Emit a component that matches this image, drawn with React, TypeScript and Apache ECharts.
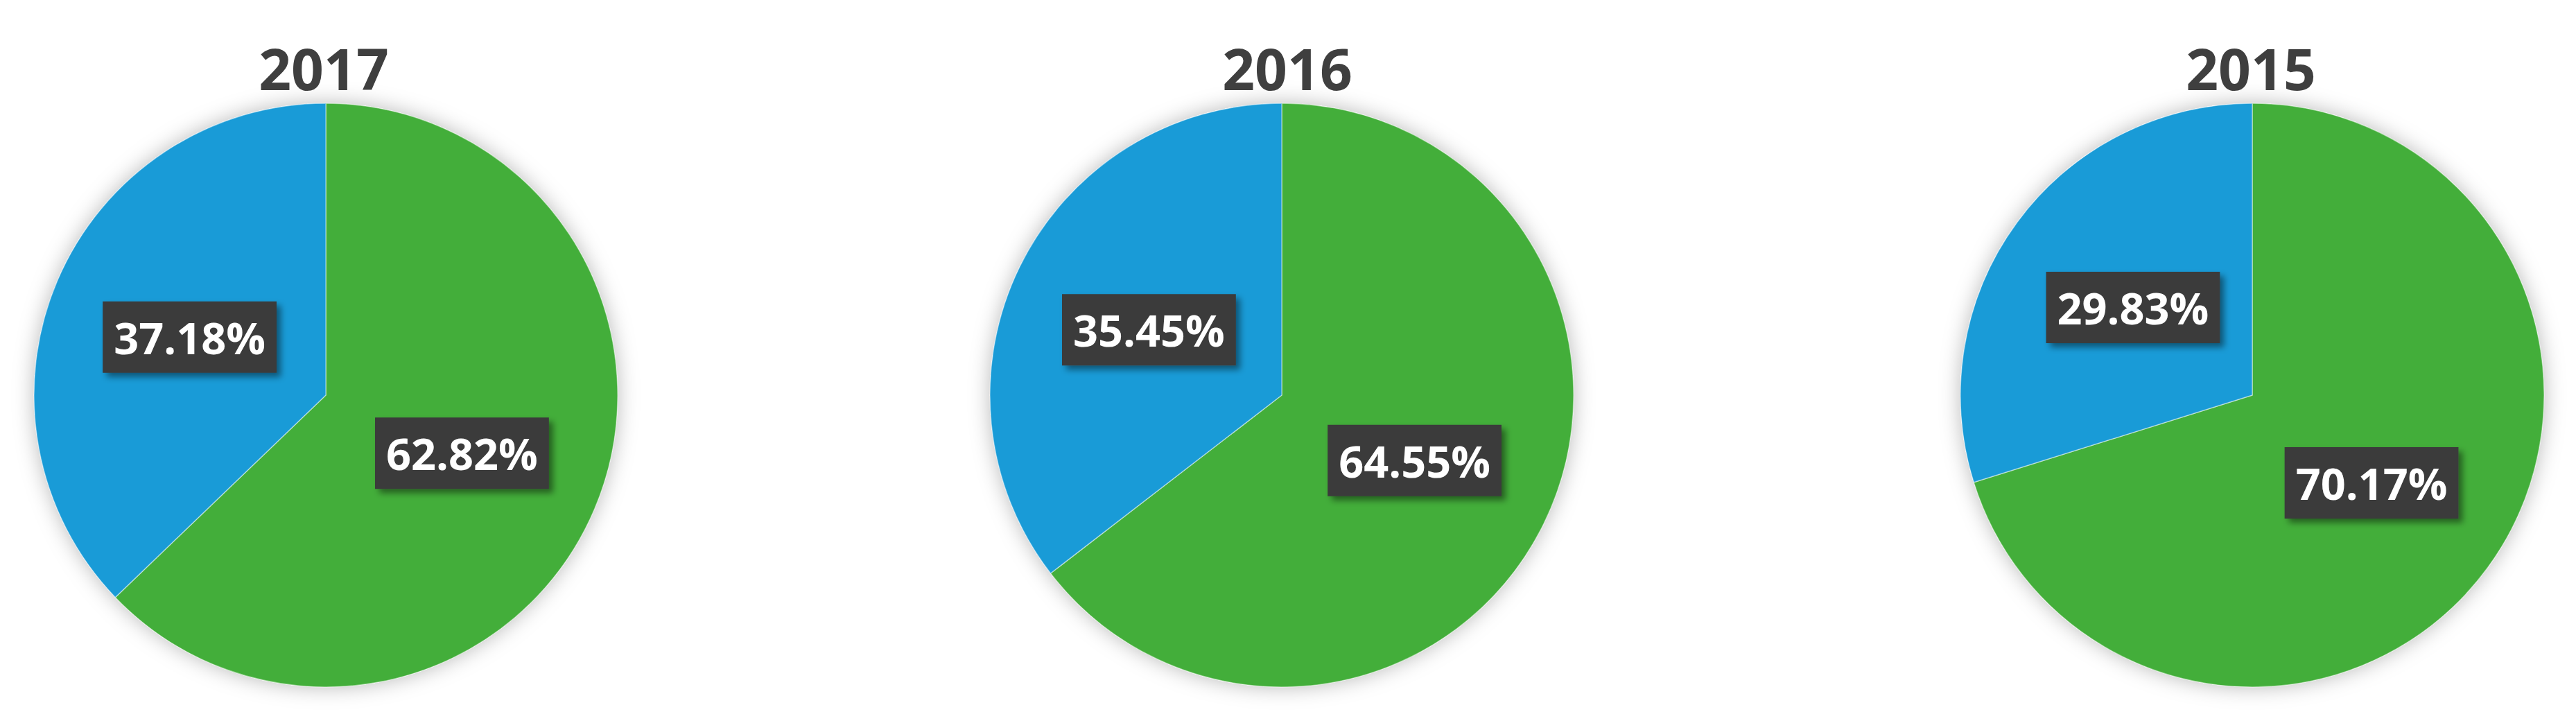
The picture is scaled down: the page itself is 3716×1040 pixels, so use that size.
import React, { useEffect, useRef } from "react";
import * as echarts from "echarts";

// ---- data ----
const years: string[] = ["2017", "2016", "2015"];
const greenShare: number[] = [62.82, 64.55, 70.17];
const blueShare: number[] = [37.18, 35.45, 29.83];
const sliceNames: string[] = ["Green", "Blue"];

// ---- layout / style constants ----
const W = 3716;
const H = 1040;
const pieCentersX = [470, 1849, 3249];
const titleCentersX = [462, 1852, 3242];
const pieCenterY = 570;
const pieRadius = 421;
const GREEN = "#43ae3a";
const BLUE = "#199bd7";
const FONT = "'Open Sans', 'DejaVu Sans', sans-serif";

export default function App() {
  const ref = useRef<HTMLDivElement | null>(null);

  useEffect(() => {
    document.body.style.margin = "0";
    if (!ref.current) return;
    const chart = echarts.init(ref.current, undefined, { renderer: "svg", width: W, height: H });

    const titles = years.map((y, i) => ({
      text: y,
      left: titleCentersX[i],
      top: 52,
      textAlign: "center",
      textStyle: { fontFamily: FONT, fontWeight: "bold", fontSize: 82, color: "#3f3f3f" },
    }));

    const series: any[] = [];
    years.forEach((y, i) => {
      const total = greenShare[i] + blueShare[i];
      // soft shadow disc underneath
      series.push({
        type: "pie",
        name: y + "-shadow",
        center: [pieCentersX[i], pieCenterY],
        radius: [0, pieRadius],
        silent: true,
        z: 1,
        label: { show: false },
        labelLine: { show: false },
        itemStyle: {
          color: "#ffffff",
          shadowBlur: 30,
          shadowColor: "rgba(0,0,0,0.28)",
          shadowOffsetX: 0,
          shadowOffsetY: 0,
        },
        data: [{ name: "total", value: total }],
      });
      series.push({
        type: "pie",
        name: y,
        center: [pieCentersX[i], pieCenterY],
        radius: [0, pieRadius],
        startAngle: 90,
        clockwise: true,
        z: 2,
        avoidLabelOverlap: false,
        itemStyle: { borderColor: "rgba(255,255,255,0.45)", borderWidth: 1.5 },
        label: {
          show: true,
          position: "inside",
          formatter: (p: any) => p.value.toFixed(2) + "%",
          fontFamily: FONT,
          fontWeight: "bold",
          fontSize: 63,
          lineHeight: 64,
          color: "#ffffff",
          backgroundColor: "#3b3b3b",
          padding: [20, 16, 19, 16],
          shadowColor: "rgba(0,0,0,0.45)",
          shadowBlur: 10,
          shadowOffsetX: 6,
          shadowOffsetY: 6,
        },
        labelLine: { show: false },
        data: [
          { name: sliceNames[0], value: greenShare[i], itemStyle: { color: GREEN } },
          { name: sliceNames[1], value: blueShare[i], itemStyle: { color: BLUE } },
        ],
      });
    });

    chart.setOption({
      animation: false,
      backgroundColor: "#ffffff",
      title: titles,
      series,
    });

    return () => chart.dispose();
  }, []);

  return <div ref={ref} style={{ width: W, height: H }} />;
}
